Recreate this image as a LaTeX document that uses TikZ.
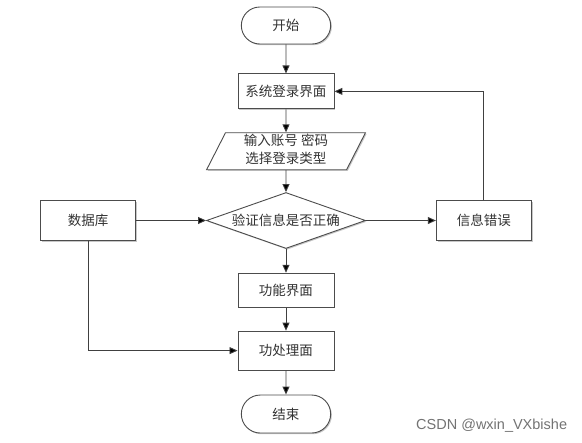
\documentclass[tikz,border=0pt]{standalone}
\usepackage{fontspec}
\newfontfamily\cjk{Noto Sans CJK SC}
\newfontfamily\wmfont{Liberation Sans}
\usetikzlibrary{matrix,shapes.geometric,shapes.misc,shadows,arrows.meta}
\newcommand{\logininput}{\begin{tabular}{@{}c@{}}输入账号 密码\\选择登录类型\end{tabular}}

\begin{document}
\begin{tikzpicture}[
  line/.style={draw=black!75, line width=0.9pt, -{Stealth[length=8pt,width=7pt,inset=0pt]}},
  shapebase/.style={draw=black!70, line width=0.9pt, fill=white, text=black!80,
    font=\cjk\fontsize{13.5}{18}\selectfont,
    drop shadow={shadow xshift=1.2pt, shadow yshift=-1.2pt, fill=black!22, opacity=1}},
  terminal/.style={shapebase, rounded rectangle, minimum width=96pt, minimum height=37pt},
  process/.style={shapebase, rectangle, minimum width=96pt, minimum height=35pt},
  sidebox/.style={process, minimum width=95pt, minimum height=40pt},
  io/.style={shapebase, trapezium, trapezium left angle=70, trapezium right angle=110,
    trapezium stretches=true, minimum width=159pt, minimum height=37pt, inner sep=0pt},
  decision/.style={shapebase, diamond, aspect=2.84, minimum width=159pt, minimum height=56pt, inner sep=0pt},
  wm/.style={anchor=base west, inner sep=0pt, text=black!55, font=\wmfont\fontsize{14.5}{17}\selectfont}
]
\matrix (m) [matrix of nodes, row sep=23pt, column sep=70pt, nodes={anchor=center}, ampersand replacement=\&]
{
  \& |[terminal]| 开始 \& \\[6pt]
  \& |[process]| 系统登录界面 \& \\
  \& |[io]| \logininput \& \\[-1pt]
  |[sidebox]| 数据库 \& |[decision]| 验证信息是否正确 \& |[sidebox]| 信息错误 \\[1pt]
  \& |[process, minimum height=34pt]| 功能界面 \& \\
  \& |[process, minimum height=39pt]| 功处理面 \& \\[1pt]
  \& |[terminal, minimum height=38pt]| 结束 \& \\};
\coordinate (tl) at ([shift={(-286pt,25.5pt)}]m-1-2.center);
\coordinate (br) at ([shift={(582pt,-443pt)}]tl);
\useasboundingbox (tl) rectangle (br);
\path[line]
  (m-1-2) edge (m-2-2)
  (m-2-2) edge (m-3-2)
  (m-3-2) edge (m-4-2)
  (m-4-1) edge (m-4-2)
  (m-4-2) edge (m-4-3)
  (m-4-2) edge (m-5-2)
  (m-5-2) edge (m-6-2)
  (m-6-2) edge (m-7-2)
  (m-4-3) edge [to path={|- (\tikztotarget)}] (m-2-2)
  (m-4-1) edge [to path={|- (\tikztotarget)}] (m-6-2);
\node[wm] (csdn) at ([shift={(416pt,-430pt)}]tl) {CSDN @wxin\_VXbishe};
\end{tikzpicture}
\end{document}
